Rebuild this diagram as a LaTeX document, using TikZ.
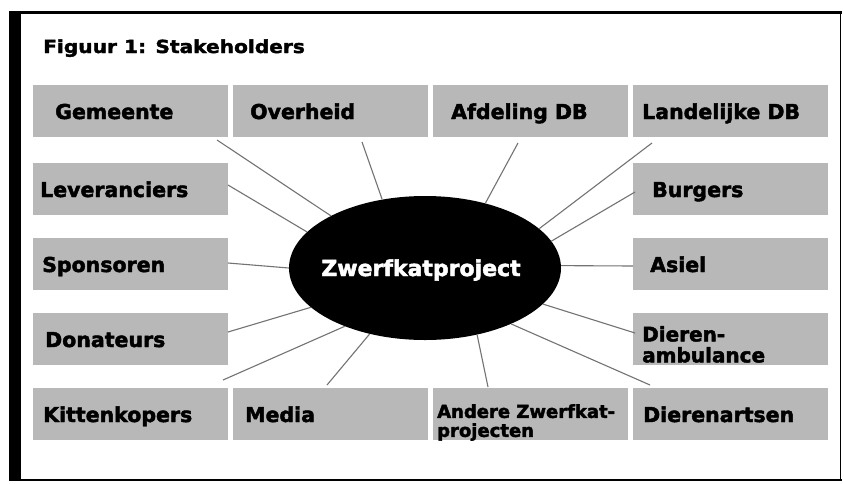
\documentclass[tikz,border=0pt]{standalone}
\usepackage{fontspec}
\setmainfont{DejaVu Sans}
\newfontfamily\heavyfont{DejaVu Sans}[UprightFont=*-Bold,FakeBold=2.2]
\newfontfamily\titlefont{DejaVu Sans}[UprightFont=*-Bold,FakeStretch=1.12,FakeBold=2]
\usetikzlibrary{shapes.geometric}
\begin{document}
\begin{tikzpicture}[x=1pt,y=-1pt,
  stbox/.style={fill=black!28, draw=none, minimum width=195pt, minimum height=52pt, inner sep=0pt, anchor=north west},
  stlbl/.style={font=\heavyfont\fontsize{20.5}{22}\selectfont, inner sep=0pt, anchor=base west},
  stlbltwo/.style={inner sep=0pt, anchor=north west, align=left},
  spoke/.style={draw=black!55, line width=1.1pt},
  frameline/.style={draw=black}]
\useasboundingbox (0,0) rectangle (844,483);
\fill[white] (0,0) rectangle (844,483);
% frame
\fill[black] (9,11) rectangle (21,481);
\draw[frameline, line width=3pt] (9,12.5) -- (842,12.5);
\draw[frameline, line width=1.5pt] (840.5,11) -- (840.5,481);
\draw[frameline, line width=1.5pt] (9,480) -- (842,480);
% title
\node[font=\titlefont\fontsize{18}{20}\selectfont, inner sep=0pt, anchor=base west] (title) at (43,53) {Figuur 1: Stakeholders};
% boxes
\node[stbox] (gem) at (33,85) {};
\node[stbox] (ovh) at (233,85) {};
\node[stbox] (afd) at (433,85) {};
\node[stbox] (lan) at (633,85) {};
\node[stbox] (lev) at (33,163) {};
\node[stbox] (bur) at (633,163) {};
\node[stbox] (spo) at (33,238) {};
\node[stbox] (asi) at (633,238) {};
\node[stbox] (don) at (33,313) {};
\node[stbox] (dam) at (633,313) {};
\node[stbox] (kit) at (33,388) {};
\node[stbox] (med) at (233,388) {};
\node[stbox] (and) at (433,388) {};
\node[stbox] (dar) at (633,388) {};
% labels
\node[stlbl] (gemt) at (55,119) {Gemeente};
\node[stlbl] (ovht) at (250,119) {Overheid};
\node[stlbl] (afdt) at (451,119) {Afdeling DB};
\node[stlbl] (lant) at (642,119) {Landelijke DB};
\node[stlbl] (levt) at (40,197) {Leveranciers};
\node[stlbl] (burt) at (652,197) {Burgers};
\node[stlbl] (spot) at (42,272) {Sponsoren};
\node[stlbl] (asit) at (650,272) {Asiel};
\node[stlbl] (dont) at (45,347) {Donateurs};
\node[stlbltwo, font=\heavyfont\fontsize{20}{21}\selectfont] (damt) at (642,326) {Dieren-\\ambulance};
\node[stlbl] (kitt) at (43,422) {Kittenkopers};
\node[stlbl] (medt) at (245,422) {Media};
\node[stlbltwo, font=\heavyfont\fontsize{18}{19}\selectfont] (andt) at (437,404) {Andere Zwerfkat-\\projecten};
\node[stlbl] (dart) at (643,422) {Dierenartsen};
% centre ellipse
\node[ellipse, fill=black, draw=none, minimum width=272pt, minimum height=144pt, inner sep=0pt] (ell) at (425,268) {};
\node[font=\heavyfont\fontsize{22}{24}\selectfont, text=white, inner sep=0pt, anchor=base] (ellt) at (421,276) {Zwerfkatproject};
% spoke start points
\coordinate (gemS) at (217,140);
\coordinate (ovhS) at (362,142);
\coordinate (afdS) at (518,143);
\coordinate (lanS) at (652,143);
\coordinate (levS) at (228,185);
\coordinate (burS) at (635,192);
\coordinate (spoS) at (228,263);
\coordinate (asiS) at (633,266);
\coordinate (donS) at (228,332);
\coordinate (damS) at (635,333);
\coordinate (kitS) at (223,380);
\coordinate (medS) at (327,385);
\coordinate (andS) at (488,387);
\coordinate (darS) at (650,385);
% spokes
\draw[spoke] (gemS) -- (ell.151);
\draw[spoke] (ovhS) -- (ell.122);
\draw[spoke] (afdS) -- (ell.47);
\draw[spoke] (lanS) -- (ell.19.5);
\draw[spoke] (levS) -- (ell.163);
\draw[spoke] (burS) -- (ell.12);
\draw[spoke] (spoS) -- (ell.180);
\draw[spoke] (asiS) -- (ell.1);
\draw[spoke] (donS) -- (ell.199.5);
\draw[spoke] (damS) -- (ell.343);
\draw[spoke] (kitS) -- (ell.216);
\draw[spoke] (medS) -- (ell.230.5);
\draw[spoke] (andS) -- (ell.308);
\draw[spoke] (darS) -- (ell.327);
\end{tikzpicture}
\end{document}
